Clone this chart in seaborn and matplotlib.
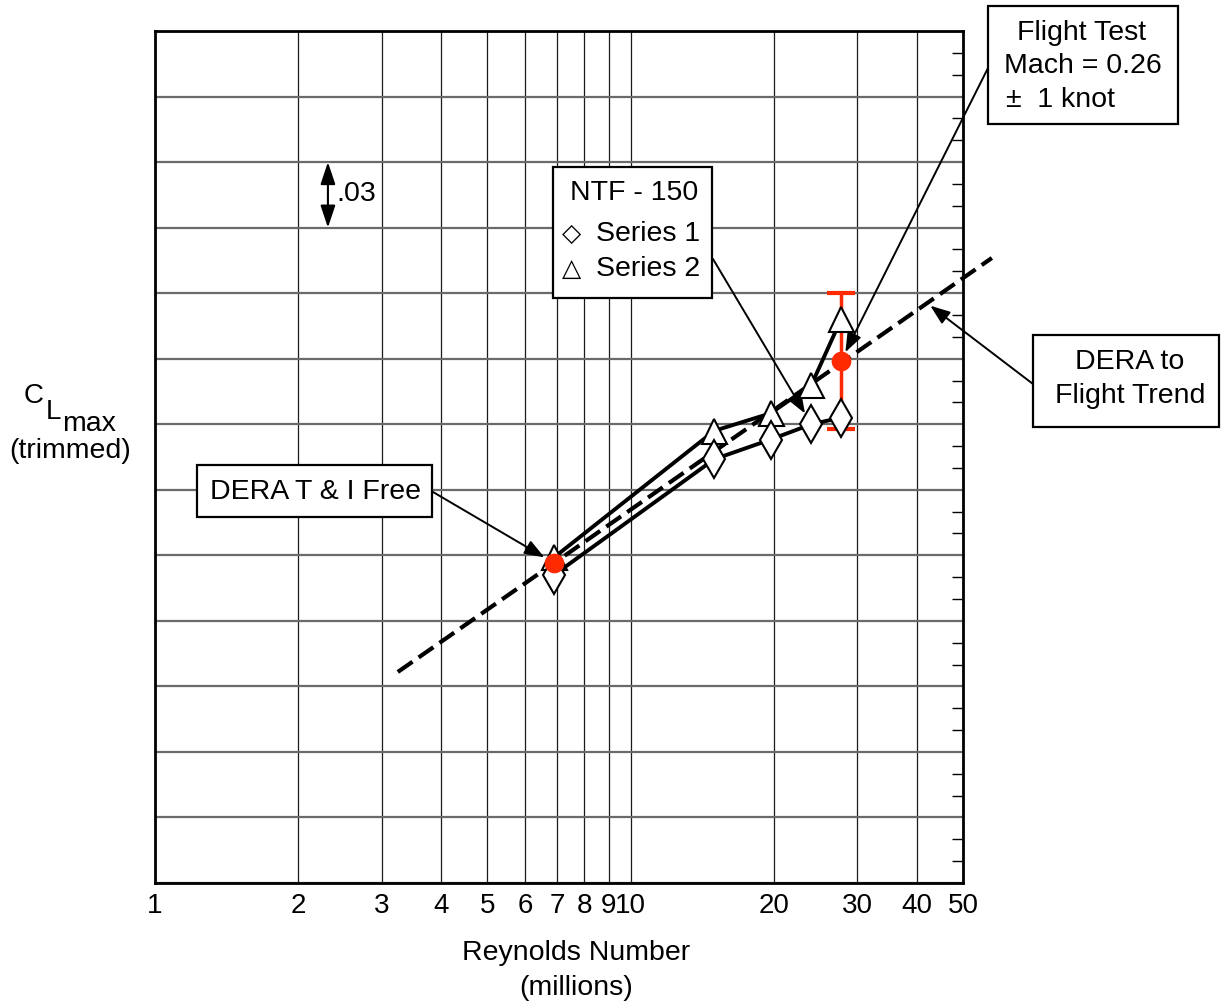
import matplotlib
matplotlib.use("Agg")
import matplotlib.pyplot as plt
import seaborn as sns
import numpy as np
import pandas as pd
from matplotlib.ticker import FixedLocator, FixedFormatter, NullLocator
from matplotlib.patches import Rectangle

# ---------------- data ----------------
series1_x = [6.9, 15.0, 19.7, 24.0, 27.7]
series1_y = [0.141, 0.194, 0.203, 0.210, 0.213]
series2_x = [6.9, 15.0, 19.7, 24.0, 27.7]
series2_y = [0.149, 0.207, 0.215, 0.228, 0.258]
dera_x = [6.9]
dera_y = [0.1465]
flight_x = [27.7]
flight_y = [0.239]
flight_err = [0.031]
trend_x = [3.24, 57.5]
trend_y = [0.0966, 0.2861]
x_ticks = [1, 2, 3, 4, 5, 6, 7, 8, 9, 10, 20, 30, 40, 50]
x_ticklabels = ["1", "2", "3", "4", "5", "6", "7", "8", "9", "10", "20", "30", "40", "50"]
y_grid = [0.03 * i for i in range(14)]
y_minor = [0.01 * i for i in range(40) if i % 3 != 0]

RED = "#ff2a00"

sns.set_style("white")
plt.rcParams["font.family"] = ["Liberation Sans", "DejaVu Sans"]
plt.rcParams["text.color"] = "black"
plt.rcParams["xtick.color"] = "black"
plt.rcParams["ytick.color"] = "black"

W, H = 1226, 1007
fig = plt.figure(figsize=(W / 100, H / 100), dpi=100)
ax = fig.add_axes([155 / W, 1 - 883 / H, (963 - 155) / W, (883 - 31) / H])

def fx(px):
    return px / W

def fy(py):
    return 1 - py / H

# trend line
df_trend = pd.DataFrame({"x": trend_x, "y": trend_y})
sns.lineplot(data=df_trend, x="x", y="y", ax=ax, color="black", lw=3.0,
             linestyle=(0, (4.3, 1.8)), zorder=3)
ax.lines[-1].set_clip_on(False)

# error bar of flight test
ax.errorbar(flight_x, flight_y, yerr=flight_err, fmt="none", ecolor=RED,
            elinewidth=2.5, capsize=10, capthick=3, zorder=3.5)

# series
df1 = pd.DataFrame({"x": series1_x, "y": series1_y})
df2 = pd.DataFrame({"x": series2_x, "y": series2_y})
sns.lineplot(data=df2, x="x", y="y", ax=ax, color="black", lw=2.8, marker="^",
             markersize=18, markerfacecolor="white", markeredgecolor="black",
             markeredgewidth=1.5, zorder=4, sort=False)
sns.lineplot(data=df1, x="x", y="y", ax=ax, color="black", lw=2.8, marker="d",
             markersize=19, markerfacecolor="white", markeredgecolor="black",
             markeredgewidth=1.5, zorder=4.5, sort=False)

# red points
sns.scatterplot(x=dera_x, y=dera_y, ax=ax, color=RED, s=200, edgecolor=RED,
                linewidth=0, zorder=6)
sns.scatterplot(x=flight_x, y=flight_y, ax=ax, color=RED, s=200, edgecolor=RED,
                linewidth=0, zorder=6)

# axes
ax.set_xscale("log")
ax.set_xlim(1, 50)
ax.set_ylim(0, 0.39)
ax.xaxis.set_major_locator(FixedLocator(x_ticks))
ax.xaxis.set_major_formatter(FixedFormatter(x_ticklabels))
ax.xaxis.set_minor_locator(NullLocator())
ax.yaxis.set_major_locator(FixedLocator(y_grid))
ax.yaxis.set_minor_locator(FixedLocator(y_minor))
ax.set_yticklabels([])
ax.tick_params(axis="x", which="major", length=0, pad=7, labelsize=20)
ax.tick_params(axis="y", which="major", length=0)
ax.tick_params(axis="y", which="minor", left=False, right=True, direction="in",
               length=8, width=1.0, color="black")
ax.set_axisbelow(True)
ax.grid(axis="x", which="major", color="#1a1a1a", lw=0.9)
ax.grid(axis="y", which="major", color="#6a6a6a", lw=1.6)
for s in ax.spines.values():
    s.set_color("black")
    s.set_linewidth(2.0)
ax.set_xlabel("")
ax.set_ylabel("")

# axis labels
fs = 20.5
fig.text(fx(576), fy(953), "Reynolds Number", ha="center", va="center", fontsize=fs)
fig.text(fx(576), fy(988), "(millions)", ha="center", va="center", fontsize=fs)
fig.text(fx(24), fy(403), "C", ha="left", va="baseline", fontsize=20)
fig.text(fx(46), fy(419), "L", ha="left", va="baseline", fontsize=20)
fig.text(fx(62), fy(431), "max", ha="left", va="baseline", fontsize=20.5)
fig.text(fx(70), fy(451), "(trimmed)", ha="center", va="center", fontsize=20.5)

# .03 scale arrow
ax.annotate("", xy=(2.31, 0.30), xytext=(2.31, 0.33), xycoords="data",
            arrowprops=dict(arrowstyle="<|-|>,head_length=0.9,head_width=0.3",
                            lw=1.5, color="black", shrinkA=0, shrinkB=0,
                            mutation_scale=15))
fig.text(fx(336), fy(194), ".03", ha="left", va="center", fontsize=fs)

def box(x0, y0, x1, y1):
    fig.patches.append(Rectangle((fx(x0), fy(y1)), fx(x1) - fx(x0), fy(y0) - fy(y1),
                                 transform=fig.transFigure, facecolor="white",
                                 edgecolor="black", lw=1.6, zorder=10))

arrow_kw = dict(arrowstyle="-|>,head_length=0.8,head_width=0.3", lw=1.4,
                color="black", shrinkA=0, mutation_scale=15)

# Flight Test box
box(988, 6, 1178, 124)
fig.text(fx(1082), fy(33), "Flight Test", ha="center", va="center", fontsize=fs, zorder=11)
fig.text(fx(1004), fy(66), "Mach = 0.26", ha="left", va="center", fontsize=fs, zorder=11)
fig.text(fx(1006), fy(100), "\u00b1  1 knot", ha="left", va="center", fontsize=fs, zorder=11)
ax.annotate("", xy=(flight_x[0], flight_y[0]), xycoords="data",
            xytext=(988, H - 68), textcoords="figure pixels",
            arrowprops=dict(shrinkB=7, **arrow_kw), annotation_clip=False)

# NTF box
box(553, 167, 712, 298)
fig.text(fx(570), fy(193), "NTF - 150", ha="left", va="center", fontsize=fs, zorder=11)
fig.text(fx(562), fy(234), "\u25c7", ha="left", va="center", fontsize=18, zorder=11,
         family=["DejaVu Sans"])
fig.text(fx(596), fy(234), "Series 1", ha="left", va="center", fontsize=fs, zorder=11)
fig.text(fx(562), fy(269), "\u25b3", ha="left", va="center", fontsize=18, zorder=11,
         family=["DejaVu Sans"])
fig.text(fx(596), fy(269), "Series 2", ha="left", va="center", fontsize=fs, zorder=11)
ax.annotate("", xy=(series1_x[3], series1_y[3]), xycoords="data",
            xytext=(713, H - 259), textcoords="figure pixels",
            arrowprops=dict(shrinkB=9, **arrow_kw))

# DERA to Flight Trend box
box(1033, 335, 1219, 427)
fig.text(fx(1130), fy(362), "DERA to", ha="center", va="center", fontsize=fs, zorder=11)
fig.text(fx(1130), fy(396), "Flight Trend", ha="center", va="center", fontsize=fs, zorder=11)
tx = 42.0
ty = np.interp(np.log10(tx), np.log10(trend_x), trend_y)
ax.annotate("", xy=(tx, ty), xycoords="data",
            xytext=(1033, H - 384), textcoords="figure pixels",
            arrowprops=dict(shrinkB=3, **arrow_kw), annotation_clip=False)

# DERA T & I Free box
box(197, 465, 432, 517)
fig.text(fx(315), fy(492), "DERA T & I Free", ha="center", va="center", fontsize=fs, zorder=11)
ax.annotate("", xy=(dera_x[0], dera_y[0]), xycoords="data",
            xytext=(433, H - 492), textcoords="figure pixels",
            arrowprops=dict(shrinkB=8, **arrow_kw))

fig.savefig("out.png", dpi=100)
